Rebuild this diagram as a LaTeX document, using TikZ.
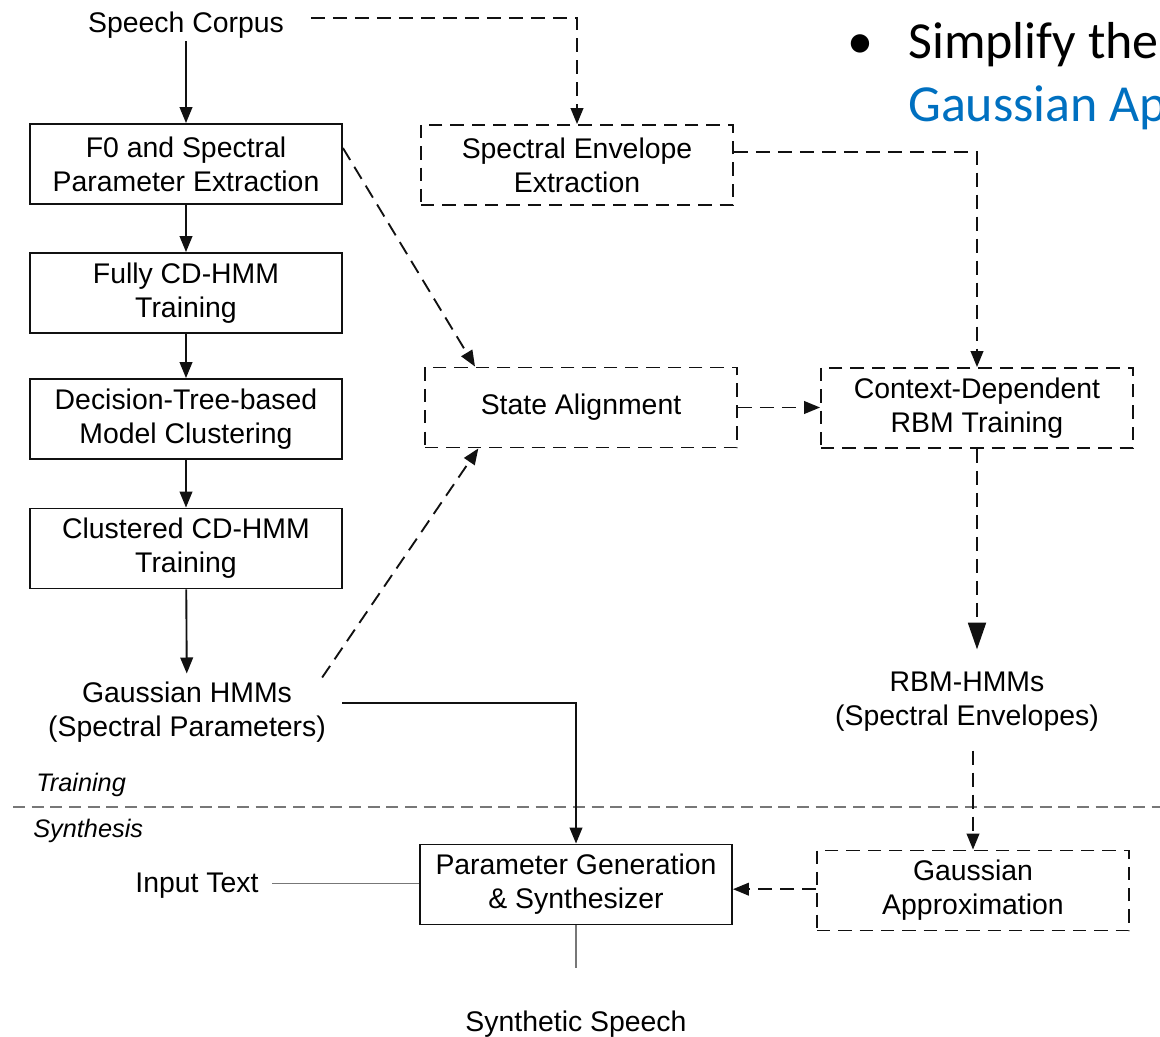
\documentclass[tikz,border=0pt]{standalone}
\usepackage{fontspec}
\setmainfont{Liberation Sans}
\newfontfamily\slidefont{Carlito}
\usetikzlibrary{arrows.meta}
\definecolor{slideblue}{HTML}{0070C0}
\definecolor{inkline}{HTML}{111111}
\definecolor{softline}{HTML}{777777}
\begin{document}
\begin{tikzpicture}[x=0.75pt,y=-0.75pt,
  every node/.style={font=\fontsize{21.3}{25.5}\selectfont, inner sep=2pt},
  solidbox/.style={draw=inkline, line width=1.4pt, minimum width=234pt, minimum height=60pt, align=center, inner sep=0pt},
  dashbox/.style={solidbox, dash pattern=on 10pt off 6pt},
  plaintext/.style={align=center},
  flow/.style={draw=inkline, line width=1.4pt, -{Triangle[length=12pt,width=9.5pt]}},
  dflow/.style={flow, dash pattern=on 10.5pt off 6pt},
  bigtip/.style={-{Triangle[length=20pt,width=13.5pt]}},
  plainlink/.style={draw=softline, line width=0.8pt},
  phase/.style={font=\fontsize{19}{22}\selectfont\itshape, anchor=west, inner sep=0pt},
  slidetext/.style={font=\slidefont\fontsize{39}{46}\selectfont, anchor=base west, inner sep=0pt},
]
\useasboundingbox (0,0) rectangle (1160,1037);
\clip (0,0) rectangle (1160,1037);

% slide bullet text in the corner
\node[slidetext] (bullet) at (847,59) {•};
\node[slidetext] (s1) at (908,59) {Simplify the};
\node[slidetext, text=slideblue] (s2) at (908,122) {Gaussian Approximation};

% left column: HMM training chain
\node (corpus) at (186,25) {Speech Corpus};
\node[solidbox] (f0) at (186,164) {F0 and Spectral\\Parameter Extraction};
\node[solidbox] (fully) at (186,293) {Fully CD-HMM\\Training};
\node[solidbox] (dtree) at (186,419) {Decision-Tree-based\\Model Clustering};
\node[solidbox] (clus) at (186,548.5) {Clustered CD-HMM\\Training};
\node[plaintext] (ghmm) at (187,712) {Gaussian HMMs\\(Spectral Parameters)};

% middle and right: RBM branch
\node[dashbox] (env) at (577,165) {Spectral Envelope\\Extraction};
\node[dashbox] (align) at (581,407.5) {State Alignment};
\node[dashbox] (rbm) at (977,408) {Context-Dependent\\RBM Training};
\node[plaintext] (rbmhmm) at (967,702) {RBM-HMMs\\(Spectral Envelopes)};

% synthesis part
\node[solidbox] (pg) at (576,884.5) {Parameter Generation\\\& Synthesizer};
\node[dashbox] (gapprox) at (973,890.5) {Gaussian\\Approximation};
\node (intext) at (197,886) {Input Text};
\node (synth) at (576,1024) {Synthetic Speech};
\coordinate (sout) at (576,968);

% phase separator
\node[phase] (train) at (36,785) {Training};
\node[phase] (synthlabel) at (33,831) {Synthesis};
\draw[softline, line width=0.8pt, dash pattern=on 9pt off 5pt] (13,807) -- (1160,807);

% solid connectors
\draw[flow] (corpus) -- (f0);
\draw[flow] (f0) -- (fully);
\draw[flow] (fully) -- (dtree);
\draw[flow] (dtree) -- (clus);
\draw[flow, shorten >=4pt] (clus) -- (ghmm);
\draw[flow] ([xshift=10pt,yshift=6.5pt]ghmm.east) -| (pg.north);

% dashed connectors
\draw[dflow] ([xshift=18pt,yshift=5pt]corpus.east) -| (env.north);
\draw[dflow] ([yshift=10pt]env.east) -| (rbm.north);
\draw[dflow] ([yshift=12pt]f0.east) -- ([xshift=-79.5pt]align.north);
\draw[dflow] ([shift={(-5pt,1pt)}]ghmm.north east) -- ([xshift=-77pt]align.south);
\draw[dflow] (align) -- (align -| rbm.west);
\draw[dflow, bigtip] (rbm.south) -- ([yshift=15pt]rbm.south |- rbmhmm.north);
\draw[dflow] ([yshift=-12pt]gapprox.north |- rbmhmm.south) -- (gapprox.north);
\draw[dflow] ([yshift=1pt]gapprox.west) -- ([yshift=1pt]gapprox.west -| pg.east);

% thin plain links
\draw[plainlink] ([xshift=8pt,yshift=2pt]intext.east) -- ([yshift=2pt]intext.east -| pg.west);
\draw[plainlink] (pg.south) -- (sout);
\end{tikzpicture}
\end{document}
